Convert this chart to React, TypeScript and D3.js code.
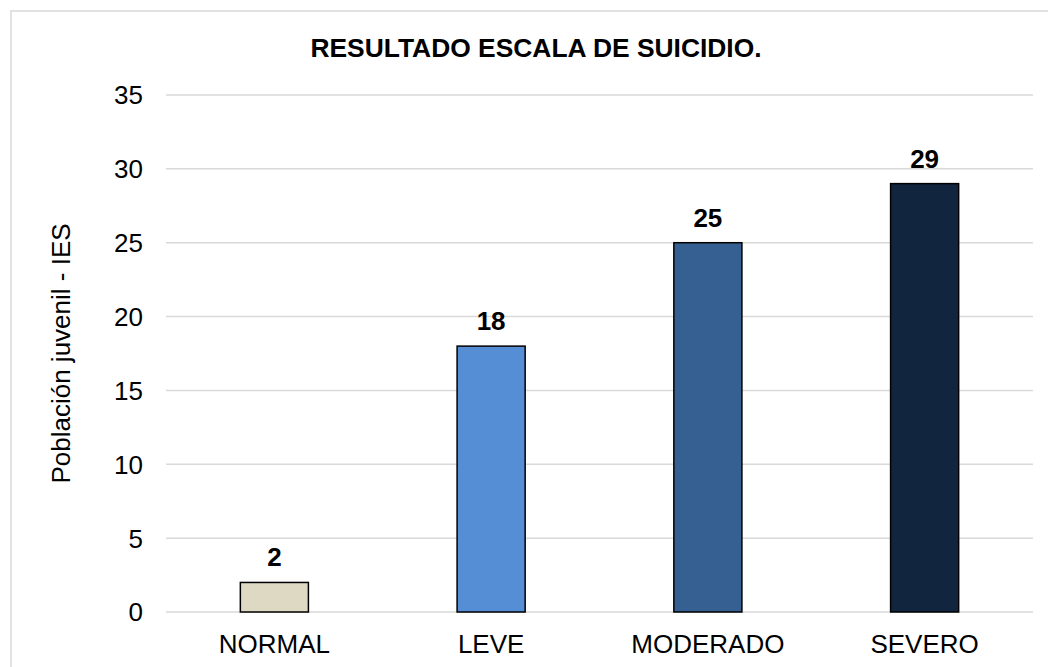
import React from "react";
import * as d3 from "d3";

const categories = ["NORMAL", "LEVE", "MODERADO", "SEVERO"];
const values = [2, 18, 25, 29];
const barColors = ["#DDD9C3", "#558ED5", "#376092", "#12253F"];
const yTicks = [0, 5, 10, 15, 20, 25, 30, 35];
const title = "RESULTADO ESCALA DE SUICIDIO.";
const yAxisTitle = "Población juvenil - IES";

const W = 1048;
const H = 667;
const FONT = "'Liberation Sans', Arial, sans-serif";

export default function App() {
  const left = 166;
  const right = 1033;
  const top = 95;
  const bottom = 612;

  const x = d3.scaleBand<string>().domain(categories).range([left, right]).paddingInner(0.686).paddingOuter(0.343);
  const y = d3.scaleLinear().domain([0, 35]).range([bottom, top]);

  return (
    <svg
      width={W}
      height={H}
      style={{ position: "fixed", left: 0, top: 0, background: "#fff" }}
      fontFamily={FONT}
    >
      <rect x={0} y={0} width={W} height={H} fill="#fff" />
      <rect x={11} y={11} width={W + 20} height={H + 20} fill="none" stroke="#D9D9D9" strokeWidth={1.5} />
      <text x={536} y={57} textAnchor="middle" fontSize={26.4} fontWeight="bold" fill="#000">
        {title}
      </text>
      {yTicks.map((t) => (
        <g key={t}>
          <line x1={left} x2={right} y1={y(t)} y2={y(t)} stroke="#D9D9D9" strokeWidth={1.5} />
          <text x={143} y={y(t)} dy="0.36em" textAnchor="end" fontSize={26} fill="#000">
            {t}
          </text>
        </g>
      ))}
      <text
        transform={`translate(70,${(top + bottom) / 2}) rotate(-90)`}
        textAnchor="middle"
        fontSize={26}
        fill="#000"
      >
        {yAxisTitle}
      </text>
      {categories.map((c, i) => {
        const bx = x(c)!;
        const bw = x.bandwidth();
        return (
          <g key={c}>
            <rect
              x={bx}
              y={y(values[i])}
              width={bw}
              height={y(0) - y(values[i])}
              fill={barColors[i]}
              stroke="#000"
              strokeWidth={1.5}
            />
            <text x={bx + bw / 2} y={y(values[i]) - 16} textAnchor="middle" fontSize={26} fontWeight="bold" fill="#000">
              {values[i]}
            </text>
            <text x={bx + bw / 2} y={653} textAnchor="middle" fontSize={26} fill="#000">
              {c}
            </text>
          </g>
        );
      })}
    </svg>
  );
}
